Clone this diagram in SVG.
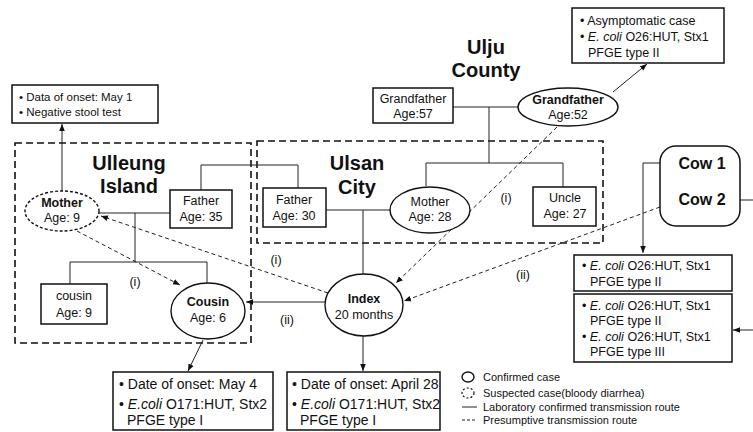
<svg xmlns="http://www.w3.org/2000/svg" width="753" height="432" viewBox="0 0 753 432">
<style>
text{font-family:"Liberation Sans",Arial,sans-serif;fill:#111}
.n{font-size:12.5px;text-anchor:middle}
.b{font-weight:bold}
.t{font-size:12.5px}
.bt{font-size:14px}
.rg{font-size:20px;font-weight:bold;text-anchor:middle}
.lg{font-size:11px}
.box{fill:#fff;stroke:#111;stroke-width:1.5}
.ell{fill:#fff;stroke:#111;stroke-width:1.4}
.sus{fill:#fff;stroke:#111;stroke-width:1.4;stroke-dasharray:3 2}
.area{fill:none;stroke:#111;stroke-width:1.6;stroke-dasharray:7 4}
.ln{fill:none;stroke:#222;stroke-width:1}
.dl{fill:none;stroke:#222;stroke-width:1;stroke-dasharray:4 3}
</style>
<defs>
<marker id="ah" viewBox="0 0 10 10" refX="10" refY="5" markerWidth="7" markerHeight="7" orient="auto" markerUnits="userSpaceOnUse">
<path d="M0,1 L10,5 L0,9 z" fill="#111"/>
</marker>
</defs>
<rect width="753" height="432" fill="#fff"/>

<g id="areas">
<rect class="area" x="15" y="143" width="236" height="200"/>
<rect class="area" x="257" y="141" width="346" height="102"/>
<text class="rg" x="129" y="170">Ulleung</text>
<text class="rg" x="129" y="193">Island</text>
<text class="rg" x="357" y="170">Ulsan</text>
<text class="rg" x="357" y="194">City</text>
<text class="rg" x="486" y="54">Ulju</text>
<text class="rg" x="486" y="77">County</text>
</g>

<g id="connectors">
<polyline class="ln" points="453,107 518,107"/>
<polyline class="ln" points="489,107 489,163"/>
<polyline class="ln" points="426,186 426,163 563,163 563,187"/>
<polyline class="ln" points="326,210 390,210"/>
<polyline class="ln" points="363,210 363,274"/>
<polyline class="ln" points="201,190 201,165 298,165 298,188"/>
<polyline class="ln" points="99,213 170,213"/>
<polyline class="ln" points="135,213 135,262"/>
<polyline class="ln" points="70,284 70,262 207,262 207,283"/>
<line class="ln" x1="325" y1="302" x2="246" y2="302" marker-end="url(#ah)"/>
<line class="ln" x1="62" y1="192" x2="62" y2="124" marker-end="url(#ah)"/>
<line class="ln" x1="613" y1="92" x2="647" y2="64" marker-end="url(#ah)"/>
<line class="ln" x1="203" y1="340" x2="188" y2="371" marker-end="url(#ah)"/>
<line class="ln" x1="363" y1="336" x2="363" y2="371" marker-end="url(#ah)"/>
<polyline class="ln" points="673,163 643,163 643,253" marker-end="url(#ah)"/>
<line class="ln" x1="731" y1="200" x2="753" y2="200"/>
<line class="ln" x1="753" y1="330" x2="733" y2="330" marker-end="url(#ah)"/>
<line class="dl" x1="328" y1="293" x2="101" y2="216" marker-end="url(#ah)"/>
<line class="dl" x1="77" y1="231" x2="180" y2="285" marker-end="url(#ah)"/>
<line class="dl" x1="557" y1="127" x2="396" y2="283" marker-end="url(#ah)"/>
<line class="dl" x1="660" y1="207" x2="404" y2="301" marker-end="url(#ah)"/>
<text class="t" x="276" y="264" text-anchor="middle">(i)</text>
<text class="t" x="135" y="286" text-anchor="middle">(i)</text>
<text class="t" x="506" y="202" text-anchor="middle">(i)</text>
<text class="t" x="287" y="324" text-anchor="middle">(ii)</text>
<text class="t" x="523" y="279" text-anchor="middle">(ii)</text>
</g>

<g id="note-mother">
<rect class="box" x="12" y="85" width="146" height="38"/>
<text class="t" x="19" y="101" style="font-size:11.5px">• Data of onset: May 1</text>
<text class="t" x="19" y="116" style="font-size:11.5px">• Negative stool test</text>
</g>

<g id="mother9">
<ellipse class="sus" cx="62" cy="211" rx="37" ry="20"/>
<text class="n b" x="62" y="207">Mother</text>
<text class="n" x="62" y="222">Age: 9</text>
</g>

<g id="father35">
<rect class="box" x="170" y="190" width="62" height="38"/>
<text class="n" x="201" y="205">Father</text>
<text class="n" x="201" y="221">Age: 35</text>
</g>

<g id="cousin9">
<rect class="box" x="41" y="284" width="66" height="40"/>
<text class="n" x="74" y="300">cousin</text>
<text class="n" x="74" y="317">Age: 9</text>
</g>

<g id="cousin6">
<ellipse class="ell" cx="208" cy="311" rx="37" ry="28"/>
<text class="n b" x="208" y="306">Cousin</text>
<text class="n" x="208" y="322">Age: 6</text>
</g>

<g id="father30">
<rect class="box" x="263" y="188" width="63" height="39"/>
<text class="n" x="294" y="204">Father</text>
<text class="n" x="294" y="220">Age: 30</text>
</g>

<g id="mother28">
<ellipse class="ell" cx="430" cy="210" rx="40" ry="23"/>
<text class="n" x="430" y="206">Mother</text>
<text class="n" x="430" y="221">Age: 28</text>
</g>

<g id="uncle">
<rect class="box" x="533" y="187" width="63" height="39"/>
<text class="n" x="565" y="202">Uncle</text>
<text class="n" x="565" y="218">Age: 27</text>
</g>

<g id="grandfather57">
<rect class="box" x="373" y="88" width="80" height="35"/>
<text class="n" x="413" y="103">Grandfather</text>
<text class="n" x="413" y="118">Age:57</text>
</g>

<g id="grandfather52">
<ellipse class="ell" cx="568" cy="107" rx="50" ry="19"/>
<text class="n b" x="568" y="104">Grandfather</text>
<text class="n" x="568" y="119">Age:52</text>
</g>

<g id="note-grandfather">
<rect class="box" x="572" y="8" width="152" height="55"/>
<text class="t" x="580" y="25">• Asymptomatic case</text>
<text class="t" x="580" y="41">• <tspan font-style="italic">E. coli</tspan> O26:HUT, Stx1</text>
<text class="t" x="588" y="57">PFGE type II</text>
</g>

<g id="index">
<ellipse class="ell" cx="364" cy="305" rx="39" ry="31"/>
<text class="n b" x="364" y="303">Index</text>
<text class="n" x="364" y="319">20 months</text>
</g>

<g id="cows">
<rect class="box" x="660" y="146" width="80" height="80" rx="16"/>
<text class="b" x="702" y="169" style="font-size:16px" text-anchor="middle">Cow 1</text>
<text class="b" x="702" y="205" style="font-size:16px" text-anchor="middle">Cow 2</text>
</g>

<g id="note-cow1">
<rect class="box" x="574" y="255" width="158" height="36"/>
<text class="t" x="582" y="270">• <tspan font-style="italic">E. coli</tspan> O26:HUT, Stx1</text>
<text class="t" x="590" y="286">PFGE type II</text>
</g>

<g id="note-cow2">
<rect class="box" x="574" y="294" width="158" height="68"/>
<text class="t" x="582" y="310">• <tspan font-style="italic">E. coli</tspan> O26:HUT, Stx1</text>
<text class="t" x="590" y="325">PFGE type II</text>
<text class="t" x="582" y="341">• <tspan font-style="italic">E. coli</tspan> O26:HUT, Stx1</text>
<text class="t" x="590" y="356">PFGE type III</text>
</g>

<g id="note-cousin">
<rect class="box" x="113" y="372" width="160" height="58"/>
<text class="bt" x="119" y="389">• Date of onset: May 4</text>
<text class="bt" x="119" y="409">• <tspan font-style="italic">E.coli</tspan> O171:HUT, Stx2</text>
<text class="bt" x="127" y="425">PFGE type I</text>
</g>

<g id="note-index">
<rect class="box" x="287" y="372" width="153" height="58"/>
<text class="bt" x="292" y="389">• Date of onset: April 28</text>
<text class="bt" x="292" y="409">• <tspan font-style="italic">E.coli</tspan> O171:HUT, Stx2</text>
<text class="bt" x="300" y="425">PFGE type I</text>
</g>

<g id="legend">
<ellipse cx="468" cy="377" rx="6" ry="5" fill="none" stroke="#111" stroke-width="1.4"/>
<ellipse cx="468" cy="393" rx="6" ry="5" fill="none" stroke="#111" stroke-width="1.2" stroke-dasharray="2 2"/>
<line x1="462" y1="407" x2="477" y2="407" stroke="#222" stroke-width="1"/>
<line x1="462" y1="420" x2="477" y2="420" stroke="#222" stroke-width="1" stroke-dasharray="3 2"/>
<text class="lg" x="483" y="381">Confirmed case</text>
<text class="lg" x="483" y="397">Suspected case(bloody diarrhea)</text>
<text class="lg" x="483" y="411">Laboratory confirmed transmission route</text>
<text class="lg" x="483" y="424">Presumptive transmission route</text>
</g>
</svg>
